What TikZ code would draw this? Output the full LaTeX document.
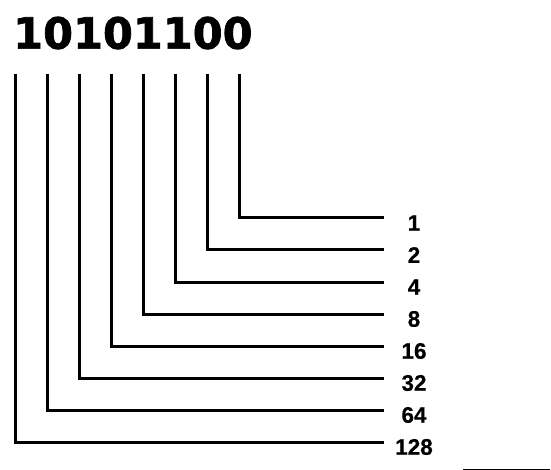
\documentclass[tikz,border=0pt]{standalone}
\usepackage{fontspec}
\newfontfamily\bitsfont{DejaVu Sans}[BoldFeatures={FakeBold=1.6}]
\newfontfamily\weightfont{Liberation Sans}[BoldFeatures={FakeBold=0.6}]

\begin{document}
\begin{tikzpicture}[
  x=1pt,
  y=-1pt,
  bits/.style={font=\bitsfont\bfseries\fontsize{43}{43}\selectfont,
    inner sep=0,anchor=west},
  weight/.style={font=\weightfont\bfseries\fontsize{22.5}{22.5}\selectfont,
    inner sep=0},
  wire/.style={draw=black,line width=3pt},
  rule/.style={draw=black,line width=1pt}
]
  \useasboundingbox (0,0) rectangle (551,470);
  \node[bits] (word) at (13,33) {10101100};

  % one wire per bit, from the top down and out to its weight
  \foreach \w [count=\i from 0] in {128,64,32,16,8,4,2,1} {
    \coordinate (top\w) at (15+32*\i,74);
    \coordinate (end\w) at (384,442-32*\i);
    \node[weight] (w\w) at (414,447-32*\i) {\w};
    \draw[wire] (top\w) |- (end\w);
  }

  \coordinate (rulea) at (463,469);
  \coordinate (ruleb) at (550,469);
  \draw[rule] (rulea) -- (ruleb);
\end{tikzpicture}
\end{document}
